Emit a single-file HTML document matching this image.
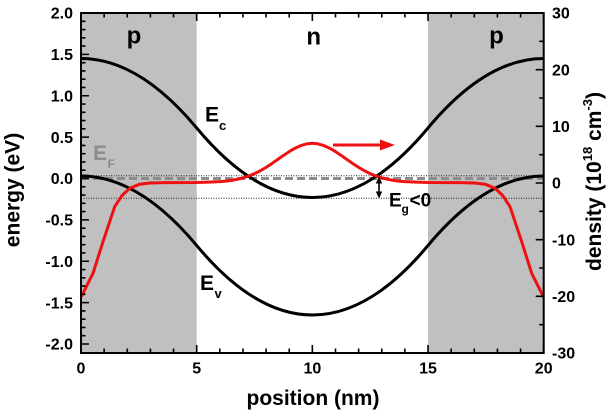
<!DOCTYPE html>
<html><head><meta charset="utf-8">
<style>
html,body{margin:0;padding:0;background:#fff;}
svg{display:block;}
text{font-family:"Liberation Sans",Arial,sans-serif;font-weight:bold;}
</style></head>
<body>
<svg width="616" height="416" viewBox="0 0 616 416" xmlns="http://www.w3.org/2000/svg">
<rect x="0" y="0" width="616" height="416" fill="#fff"/>
<!-- gray p regions -->
<rect x="81" y="13" width="115.7" height="340" fill="#c0c0c0"/>
<rect x="428" y="13" width="115.7" height="340" fill="#c0c0c0"/>
<!-- dotted reference lines -->
<line x1="81" y1="175.7" x2="543.7" y2="175.7" stroke="#222" stroke-width="1" stroke-dasharray="1,1.5"/>
<line x1="81" y1="198.3" x2="543.7" y2="198.3" stroke="#222" stroke-width="1" stroke-dasharray="1,1.5"/>
<!-- E_F dashed -->
<line x1="81" y1="178.5" x2="543.7" y2="178.5" stroke="#8c8c8c" stroke-width="3" stroke-dasharray="8,4"/>
<!-- Ec, Ev -->
<path d="M81,58.5 Q138.8,58.5 196.7,128 Q254.5,197.5 312.35,197.5 Q370.2,197.5 428,128 Q485.9,58.5 543.7,58.5" fill="none" stroke="#000" stroke-width="3"/>
<path d="M81,176 Q138.8,176 196.7,245.5 Q254.5,315 312.35,315 Q370.2,315 428,245.5 Q485.9,176 543.7,176" fill="none" stroke="#000" stroke-width="3"/>
<!-- density (red) -->
<polyline fill="none" stroke="#ee1111" stroke-width="3" stroke-linejoin="round" points="81.3,296.7 93,273.3 103,241.7 114.7,206.7 122,195.5 129.7,188.3 139.7,184.2 150,183 165,182.6 196,182.5 208.24,182.18 219.81,181.63 225.59,181.12 231.38,180.37 237.16,179.32 242.95,177.89 248.73,176.01 254.52,173.63 260.30,170.74 266.08,167.36 271.87,163.58 277.65,159.54 283.44,155.46 289.22,151.6 295.00,148.21 300.79,145.6 306.57,143.88 312.35,143.3 318.13,143.88 323.91,145.6 329.70,148.21 335.48,151.6 341.26,155.46 347.05,159.54 352.83,163.58 358.62,167.36 364.40,170.74 370.18,173.63 375.97,176.01 381.75,177.89 387.54,179.32 393.32,180.37 399.11,181.12 404.89,181.63 416.46,182.18 428.7,182.5 459.7,182.6 474.7,183 485,184.2 495,188.3 502.7,195.5 510,206.7 521.7,241.7 531.7,273.3 543.4,296.7"/>
<!-- red arrow -->
<line x1="333" y1="145" x2="382" y2="145" stroke="#ee1111" stroke-width="3"/>
<polygon points="380,139.5 395,145 380,150.5" fill="#ee1111"/>
<!-- black double arrow -->
<line x1="379" y1="181" x2="379" y2="194" stroke="#000" stroke-width="1.6"/>
<polygon points="379,176.5 375.8,183.5 382.2,183.5" fill="#000"/>
<polygon points="379,198.5 375.8,191.5 382.2,191.5" fill="#000"/>
<!-- frame -->
<rect x="81" y="13" width="462.7" height="340" fill="none" stroke="#000" stroke-width="2"/>
<!-- x ticks bottom & top -->
<path stroke="#000" stroke-width="1.6" fill="none" d="
M81,353v-8 M196.68,353v-8 M312.35,353v-8 M428.03,353v-8 M543.7,353v-8
M104.14,353v-4.5 M127.27,353v-4.5 M150.41,353v-4.5 M173.54,353v-4.5 M219.81,353v-4.5 M242.95,353v-4.5 M266.08,353v-4.5 M289.22,353v-4.5 M335.49,353v-4.5 M358.62,353v-4.5 M381.76,353v-4.5 M404.89,353v-4.5 M451.16,353v-4.5 M474.30,353v-4.5 M497.43,353v-4.5 M520.57,353v-4.5
M81,13v8 M196.68,13v8 M312.35,13v8 M428.03,13v8 M543.7,13v8
M104.14,13v4.5 M127.27,13v4.5 M150.41,13v4.5 M173.54,13v4.5 M219.81,13v4.5 M242.95,13v4.5 M266.08,13v4.5 M289.22,13v4.5 M335.49,13v4.5 M358.62,13v4.5 M381.76,13v4.5 M404.89,13v4.5 M451.16,13v4.5 M474.30,13v4.5 M497.43,13v4.5 M520.57,13v4.5
"/>
<!-- left ticks -->
<path stroke="#000" stroke-width="1.6" fill="none" d="
M81,13h8 M81,54.38h8 M81,95.75h8 M81,137.13h8 M81,178.5h8 M81,219.88h8 M81,261.25h8 M81,302.63h8 M81,344h8
M81,21.28h4.5 M81,29.55h4.5 M81,37.83h4.5 M81,46.10h4.5
M81,62.65h4.5 M81,70.93h4.5 M81,79.20h4.5 M81,87.48h4.5
M81,104.03h4.5 M81,112.30h4.5 M81,120.58h4.5 M81,128.85h4.5
M81,145.40h4.5 M81,153.68h4.5 M81,161.95h4.5 M81,170.23h4.5
M81,186.78h4.5 M81,195.05h4.5 M81,203.33h4.5 M81,211.60h4.5
M81,228.15h4.5 M81,236.43h4.5 M81,244.70h4.5 M81,252.98h4.5
M81,269.53h4.5 M81,277.80h4.5 M81,286.08h4.5 M81,294.35h4.5
M81,310.90h4.5 M81,319.18h4.5 M81,327.45h4.5 M81,335.73h4.5
"/>
<!-- right ticks -->
<path stroke="#000" stroke-width="1.6" fill="none" d="
M543.7,13h-8 M543.7,69.67h-8 M543.7,126.33h-8 M543.7,183h-8 M543.7,239.67h-8 M543.7,296.33h-8 M543.7,353h-8
M543.7,41.33h-4.5 M543.7,98h-4.5 M543.7,154.67h-4.5 M543.7,211.33h-4.5 M543.7,268h-4.5 M543.7,324.67h-4.5
"/>
<!-- left tick labels -->
<g font-size="16" text-anchor="end" fill="#000">
<text x="73" y="18.7">2.0</text>
<text x="73" y="60.1">1.5</text>
<text x="73" y="101.5">1.0</text>
<text x="73" y="142.8">0.5</text>
<text x="73" y="184.2">0.0</text>
<text x="73" y="225.6">-0.5</text>
<text x="73" y="267">-1.0</text>
<text x="73" y="308.3">-1.5</text>
<text x="73" y="349.7">-2.0</text>
</g>
<!-- right tick labels -->
<g font-size="16" text-anchor="start" fill="#000">
<text x="552" y="18.7">30</text>
<text x="552" y="75.4">20</text>
<text x="552" y="132">10</text>
<text x="552" y="188.7">0</text>
<text x="552" y="245.4">-10</text>
<text x="552" y="302">-20</text>
<text x="552" y="358.7">-30</text>
</g>
<!-- bottom tick labels -->
<g font-size="16" text-anchor="middle" fill="#000">
<text x="81" y="373.3">0</text>
<text x="196.7" y="373.3">5</text>
<text x="312.35" y="373.3">10</text>
<text x="428" y="373.3">15</text>
<text x="543.7" y="373.3">20</text>
</g>
<!-- axis titles -->
<text x="313" y="405" font-size="21" text-anchor="middle">position (nm)</text>
<text transform="translate(19.5,190) rotate(-90)" font-size="21" text-anchor="middle">energy (eV)</text>
<text transform="translate(601,181.5) rotate(-90)" font-size="21" text-anchor="middle">density (10<tspan font-size="13" dy="-9">18</tspan><tspan dy="9"> cm</tspan><tspan font-size="13" dy="-9">-3</tspan><tspan dy="9">)</tspan></text>
<!-- region labels -->
<text x="134" y="43.5" font-size="24" text-anchor="middle">p</text>
<text x="313.7" y="44.5" font-size="24" text-anchor="middle">n</text>
<text x="496.5" y="43.5" font-size="24" text-anchor="middle">p</text>
<!-- band labels -->
<text x="205" y="121.7" font-size="21">E</text>
<text x="219" y="130" font-size="13">c</text>
<text x="200" y="290" font-size="21">E</text>
<text x="214.5" y="298" font-size="13">v</text>
<text x="93" y="160" font-size="21" fill="#8c8c8c">E</text>
<text x="107.5" y="168" font-size="12" fill="#8c8c8c">F</text>
<text x="389" y="206.7" font-size="19">E</text>
<text x="401.5" y="213" font-size="12">g</text>
<text x="409.5" y="206.7" font-size="19">&lt;0</text>
</svg>
</body></html>
